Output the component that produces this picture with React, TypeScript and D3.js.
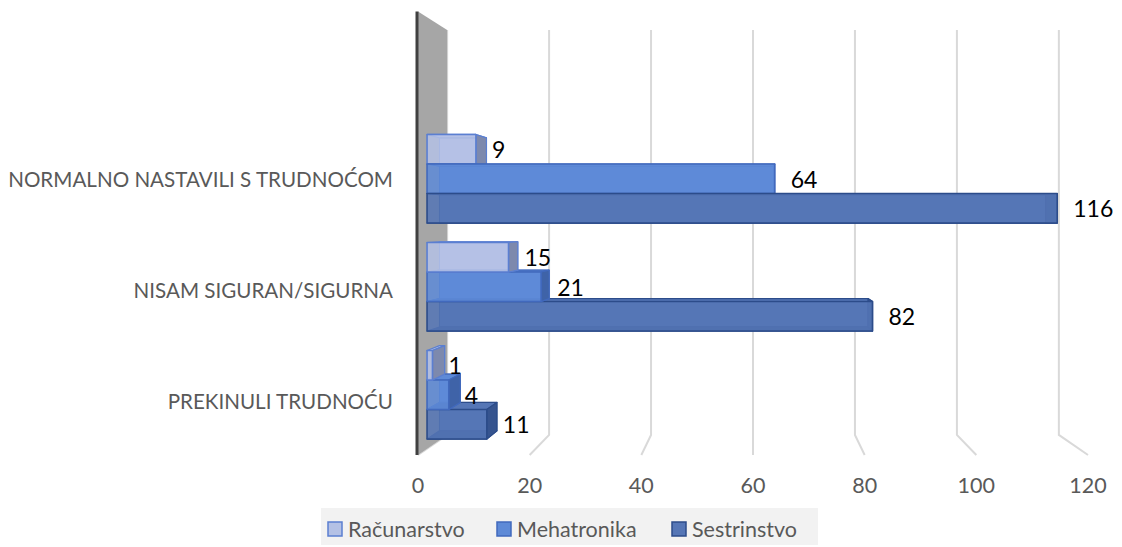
import * as d3 from 'd3'

const categories = ['NORMALNO NASTAVILI S TRUDNOĆOM', 'NISAM SIGURAN/SIGURNA', 'PREKINULI TRUDNOĆU']
const seriesNames = ['Računarstvo', 'Mehatronika', 'Sestrinstvo']
const racunarstvo = [9, 15, 1]
const mehatronika = [64, 21, 4]
const sestrinstvo = [116, 82, 11]
const ticks = [0, 20, 40, 60, 80, 100, 120]

const seriesValues = [racunarstvo, mehatronika, sestrinstvo]

// per-series look: front face, side faces, edge
const palette = [
  { front: '#b4c1e5', side: '#7d89ad', edge: '#5b7fd1' },
  { front: '#5e8ad7', side: '#3f63a8', edge: '#4169bd' },
  { front: '#5576b6', side: '#36548f', edge: '#2c4c8a' },
]

const W = 1122
const H = 547
const font = 'Lato, "Open Sans", "Liberation Sans", sans-serif'

// simple perspective: front plane k=1, walls shrink towards (cx, cy)
const cx = 753
const cy = 224
const kWall = 0.913
const kBarFront = 0.973
const kBarBack = 0.936
const plotTop = 11.5
const plotBottom = 455

const proj = (X: number, Y: number, k: number): [number, number] => [cx + k * (X - cx), cy + k * (Y - cy)]
const poly = (pts: [number, number][]) => pts.map((p) => p.join(',')).join(' ')

export default function App() {
  const x = d3.scaleLinear().domain([0, 120]).range([418, 1088])
  const yBand = d3.scaleBand<string>().domain(categories).range([122, plotBottom]).paddingInner(0.18).paddingOuter(0.09)
  const ySub = d3.scaleBand<string>().domain(seriesNames).range([0, yBand.bandwidth()])

  type Bar = { c: string; s: number; v: number; X0: number; X1: number; Y0: number; Y1: number }
  const bars: Bar[] = []
  categories.forEach((c, ci) => {
    seriesNames.forEach((name, si) => {
      const v = seriesValues[si][ci]
      const Y0 = (yBand(c) ?? 0) + (ySub(name) ?? 0)
      bars.push({ c, s: si, v, X0: x(0), X1: x(v), Y0, Y1: Y0 + ySub.bandwidth() })
    })
  })
  // paint far-from-center bars first
  const ordered = [...bars].sort((a, b) => Math.abs((b.Y0 + b.Y1) / 2 - cy) - Math.abs((a.Y0 + a.Y1) / 2 - cy))

  const wall = poly([
    proj(x(0), plotTop, 1),
    proj(x(0), plotTop, kWall),
    proj(x(0), plotBottom, kWall),
    proj(x(0), plotBottom, 1),
  ])

  return (
    <svg width={W} height={H} style={{ position: 'absolute', left: 0, top: 0, background: '#fff' }}>
      {/* gridlines on the back wall plus floor diagonals */}
      {ticks.map((t) => {
        const a = proj(x(t), plotTop, kWall)
        const b = proj(x(t), plotBottom, kWall)
        const c = proj(x(t), plotBottom, 1)
        return <polyline key={t} points={poly([a, b, c])} fill="none" stroke="#d9d9d9" strokeWidth={2} />
      })}

      {/* side wall */}
      <polygon points={wall} fill="#a6a6a6" />
      <line x1={x(0) - 1} x2={x(0) - 1} y1={plotTop} y2={plotBottom} stroke="#404040" strokeWidth={3} />

      {/* bars */}
      {ordered.map((b, i) => {
        const p = palette[b.s]
        const f = (X: number, Y: number) => proj(X, Y, kBarFront)
        const k = (X: number, Y: number) => proj(X, Y, kBarBack)
        const back = [k(b.X0, b.Y0), k(b.X1, b.Y0), k(b.X1, b.Y1), k(b.X0, b.Y1)]
        const front = [f(b.X0, b.Y0), f(b.X1, b.Y0), f(b.X1, b.Y1), f(b.X0, b.Y1)]
        const end = [f(b.X1, b.Y0), k(b.X1, b.Y0), k(b.X1, b.Y1), f(b.X1, b.Y1)]
        const top = [f(b.X0, b.Y0), f(b.X1, b.Y0), k(b.X1, b.Y0), k(b.X0, b.Y0)]
        const bottom = [f(b.X0, b.Y1), f(b.X1, b.Y1), k(b.X1, b.Y1), k(b.X0, b.Y1)]
        return (
          <g key={i} strokeLinejoin="round">
            <polygon points={poly(back)} fill={p.front} stroke={p.edge} strokeWidth={1} />
            <polygon points={poly(top)} fill={p.front} stroke={p.edge} strokeWidth={1.2} />
            <polygon points={poly(bottom)} fill={p.side} stroke={p.edge} strokeWidth={1.2} />
            <polygon points={poly(end)} fill={p.side} stroke={p.edge} strokeWidth={1.2} />
            <polygon points={poly(front)} fill={p.front} fillOpacity={0.86} stroke={p.edge} strokeWidth={1.6} />
          </g>
        )
      })}

      {/* data labels */}
      {bars.map((b, i) => {
        const fx = proj(b.X1, b.Y0, kBarFront)[0]
        const fy = (proj(b.X1, b.Y0, kBarFront)[1] + proj(b.X1, b.Y1, kBarFront)[1]) / 2
        return (
          <text key={i} x={fx + 16} y={fy} dominantBaseline="central" fontFamily={font} fontSize={23} fill="#000">
            {b.v}
          </text>
        )
      })}

      {/* category labels */}
      {categories.map((c) => (
        <text
          key={c}
          x={393}
          y={(yBand(c) ?? 0) + yBand.bandwidth() / 2 + 1}
          textAnchor="end"
          dominantBaseline="central"
          fontFamily={font}
          fontSize={20.6}
          fill="#595959"
        >
          {c}
        </text>
      ))}

      {/* value axis labels */}
      {ticks.map((t) => (
        <text key={t} x={x(t)} y={485} textAnchor="middle" dominantBaseline="central" fontFamily={font} fontSize={21.5} fill="#595959">
          {t}
        </text>
      ))}

      {/* legend */}
      <rect x={321} y={508} width={497} height={37} fill="#f2f2f2" />
      {seriesNames.map((name, i) => {
        const lx = [328, 497, 672][i]
        return (
          <g key={name}>
            <rect x={lx} y={522} width={14} height={14} fill={palette[i].front} stroke={palette[i].edge} strokeWidth={1.5} />
            <text x={lx + 20} y={529} dominantBaseline="central" fontFamily={font} fontSize={21.5} fill="#595959">
              {name}
            </text>
          </g>
        )
      })}
    </svg>
  )
}
